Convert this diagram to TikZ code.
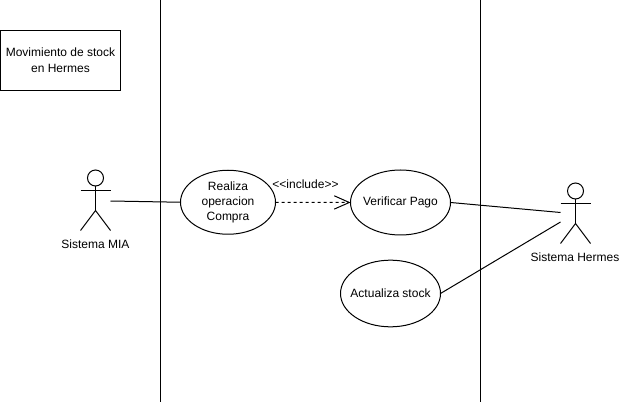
\documentclass[tikz,border=0pt]{standalone}
\usepackage{fontspec}
\setmainfont{Liberation Sans}
\usetikzlibrary{shapes.geometric,arrows.meta}
\tikzset{
  px/.style={x=0.75pt,y=-0.75pt},
  line/.style={draw=black,line width=0.75pt},
  lbl/.style={inner sep=0pt,align=center,font=\fontsize{9}{11}\selectfont},
  usecase/.style={ellipse,line,fill=white,inner sep=0pt,outer sep=0pt},
  titlebox/.style={rectangle,line,fill=white,inner sep=0pt,outer sep=0pt,align=center,font=\fontsize{9}{12}\selectfont},
  head/.style={circle,line,fill=white,minimum size=12pt,inner sep=0pt,outer sep=0pt},
  includelbl/.style={inner sep=0pt,font=\fontsize{9}{10}\selectfont},
  assoc/.style={line},
  incl/.style={line,dash pattern=on 2.25pt off 2.25pt,-{Straight Barb[length=11.25pt,width=10pt,line width=0.75pt]}}
}
\begin{document}
\begin{tikzpicture}[px]
\useasboundingbox[fill=white] (0,0) rectangle (620,402);
% swimlane lines
\coordinate (l1t) at (160.5,0); \coordinate (l1b) at (160.5,402);
\coordinate (l2t) at (480.5,0); \coordinate (l2b) at (480.5,402);
\draw[line] (l1t) -- (l1b);
\draw[line] (l2t) -- (l2b);
% title
\node[titlebox,minimum width=90pt,minimum height=45pt] (title) at (60.5,60.5) {Movimiento de stock\\en Hermes};
% use cases
\node[usecase,minimum width=71.25pt,minimum height=48pt,label={[lbl]center:Realiza\\operacion\\Compra}] (realiza) at (228,202.25) {};
\node[usecase,minimum width=75pt,minimum height=48.75pt,label={[lbl]center:Verificar Pago}] (verificar) at (400.5,202.5) {};
\node[usecase,minimum width=75pt,minimum height=50pt,label={[lbl]center:Actualiza stock}] (actualiza) at (390.5,293.5) {};
% actor left
\node[head] (mh) at (95.5,178) {};
\coordinate (mhip) at (95.5,210.5);
\coordinate (mal) at (80.5,190.5); \coordinate (mar) at (110.5,190.5);
\coordinate (mll) at (80.5,230.5); \coordinate (mlr) at (110.5,230.5);
\coordinate (mport) at (110.5,201);
\draw[line] (mh.south) -- (mhip);
\draw[line] (mal) -- (mar);
\draw[line] (mll) -- (mhip) -- (mlr);
\node[lbl] (mlabel) at (95.5,244) {Sistema MIA};
% actor right
\node[head] (hh) at (575.5,191) {};
\coordinate (hhip) at (575.5,223.5);
\coordinate (hal) at (560.5,203.5); \coordinate (har) at (590.5,203.5);
\coordinate (hll) at (560.5,243.5); \coordinate (hlr) at (590.5,243.5);
\coordinate (hport1) at (560.5,212.5);
\coordinate (hport2) at (560.5,222);
\draw[line] (hh.south) -- (hhip);
\draw[line] (hal) -- (har);
\draw[line] (hll) -- (hhip) -- (hlr);
\node[lbl] (hlabel) at (575,257) {Sistema Hermes};
% connectors
\draw[assoc] (mport) -- (realiza.west);
\draw[incl] (realiza.east) -- (verificar.west);
\draw[assoc] (verificar.east) -- (hport1);
\draw[assoc] (actualiza.east) -- (hport2);
\node[includelbl] (inc) at (305.5,184.5) {<{}<include>{}>};
\end{tikzpicture}
\end{document}
